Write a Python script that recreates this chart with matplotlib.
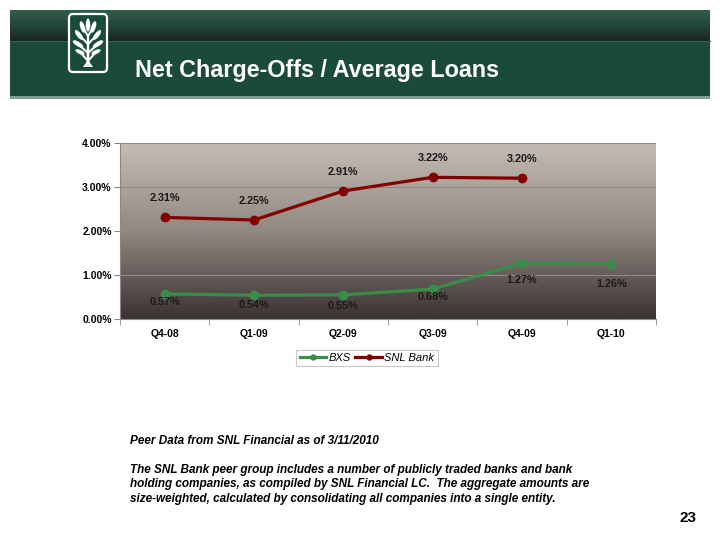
import matplotlib
matplotlib.use("Agg")
import matplotlib.pyplot as plt
import numpy as np
from matplotlib.patches import Rectangle, FancyBboxPatch, Ellipse, Polygon
from matplotlib.colors import LinearSegmentedColormap

plt.rcParams['font.family'] = ['Liberation Sans', 'DejaVu Sans']

categories = ["Q4-08", "Q1-09", "Q2-09", "Q3-09", "Q4-09", "Q1-10"]
bxs = [0.57, 0.54, 0.55, 0.68, 1.27, 1.26]
snl = [2.31, 2.25, 2.91, 3.22, 3.20]
bxs_labels = ["0.57%", "0.54%", "0.55%", "0.68%", "1.27%", "1.26%"]
snl_labels = ["2.31%", "2.25%", "2.91%", "3.22%", "3.20%"]
yticks = [0, 1, 2, 3, 4]
ytick_labels = ["0.00%", "1.00%", "2.00%", "3.00%", "4.00%"]
title = "Net Charge-Offs / Average Loans"
footer1 = "Peer Data from SNL Financial as of 3/11/2010"
footer2 = ("The SNL Bank peer group includes a number of publicly traded banks and bank\n"
           "holding companies, as compiled by SNL Financial LC.  The aggregate amounts are\n"
           "size-weighted, calculated by consolidating all companies into a single entity.")
page = "23"

W, H = 720, 534
fig = plt.figure(figsize=(W/100, H/100), dpi=100)

# background / banner axes in pixel coords
bg = fig.add_axes([0, 0, 1, 1], zorder=0)
bg.set_xlim(0, W)
bg.set_ylim(H, 0)
bg.axis('off')

top_cmap = LinearSegmentedColormap.from_list("top", ["#2f5d4a", "#25463a", "#18261f"])
grad = np.linspace(0, 1, 64).reshape(-1, 1)
bg.imshow(grad, cmap=top_cmap, extent=(10, 710, 41, 10), aspect='auto', zorder=1)
bg.add_patch(Rectangle((10, 41), 700, 56, facecolor="#1a4b3a", edgecolor='none', zorder=1))
bg.add_patch(Rectangle((10, 96), 700, 3, facecolor="#7d9c8c", edgecolor='none', zorder=2))
bg.plot([10, 710], [41, 41], color="#355f4e", lw=0.8, zorder=2)

# logo
bg.add_patch(FancyBboxPatch((69, 14), 38, 58, boxstyle="round,pad=0,rounding_size=4",
                            facecolor="#1a4b3a", edgecolor="white", lw=1.6, zorder=3))
bg.add_patch(Polygon([(86.5, 66), (89.5, 66), (89, 34), (87, 34)], closed=True,
                     facecolor="white", edgecolor="none", zorder=4))
bg.add_patch(Polygon([(83, 67), (93, 67), (89.5, 62), (86.5, 62)], closed=True,
                     facecolor="white", edgecolor="none", zorder=4))
leaves = [(88, 25, 4.5, 13, 0),
          (82.5, 27, 4.5, 12, -18), (93.5, 27, 4.5, 12, 18),
          (79, 35, 4.5, 12, -38), (97, 35, 4.5, 12, 38),
          (78, 44, 4.5, 12, -58), (98, 44, 4.5, 12, 58),
          (80, 52, 4, 10, -65), (96, 52, 4, 10, 65)]
for (cx, cy, w, h, a) in leaves:
    bg.add_patch(Ellipse((cx, cy), w, h, angle=a, facecolor="white", edgecolor="none", zorder=4))
for (cx, cy, w, h, a) in leaves[1:]:
    bg.plot([88, cx], [cy + 9, cy], color="white", lw=1.5, zorder=4)

bg.text(135, 70, title, color="white", fontsize=16.8, fontweight='bold', va='center', ha='left', zorder=5)

# footer text
bg.text(130, 441, footer1, fontsize=8.5, fontweight='bold', style='italic', va='center', ha='left')
bg.text(130, 484.5, footer2, fontsize=8.5, fontweight='bold', style='italic', va='center', ha='left',
        linespacing=1.25)
bg.text(696, 518, page, fontsize=11, fontweight='bold', va='center', ha='right')

# chart axes
ax = fig.add_axes([120/W, 1 - 319/H, 536/W, 176/H], zorder=2)
ax.patch.set_alpha(0)
x = np.arange(len(categories))
n = len(categories)

pcmap = LinearSegmentedColormap.from_list("plot", ["#c3bcb5", "#928882", "#3b3232"])
ax.imshow(np.linspace(1, 0, 128).reshape(-1, 1), cmap=pcmap, origin='lower',
          extent=(-0.5, n - 0.5, 0, 4), aspect='auto', zorder=0)
ax.set_xlim(-0.5, n - 0.5)
ax.set_ylim(0, 4)
for yv in yticks[1:]:
    ax.axhline(yv, color="#8f8a86", lw=0.8, zorder=1)

ln_b, = ax.plot(x, bxs, color="#3a8c4a", lw=2.3, marker='o', markersize=6, zorder=3, label="BXS")
ln_s, = ax.plot(x[:len(snl)], snl, color="#820000", lw=2.3, marker='o', markersize=6, zorder=3, label="SNL Bank")

for xi, v, lab in zip(x, snl, snl_labels):
    ax.annotate(lab, (xi, v), xytext=(0, 14), textcoords='offset points', ha='center', va='center',
                fontsize=7.8, fontweight='bold', color="#1a1a1a", zorder=4)
bxs_off = [-6, -7, -8, -6, -12, -15]
for xi, v, lab, off in zip(x, bxs, bxs_labels, bxs_off):
    ax.annotate(lab, (xi, v), xytext=(0, off), textcoords='offset points', ha='center', va='center',
                fontsize=7.8, fontweight='bold', color="#1a1a1a", zorder=4)

ax.set_yticks(yticks)
ax.set_yticklabels(ytick_labels, fontsize=7.5, fontweight='bold')
ax.set_xticks(x)
ax.set_xticklabels(categories, fontsize=7.5, fontweight='bold')
ax.set_xticks(np.arange(-0.5, n, 1), minor=True)
ax.tick_params(axis='x', which='major', length=0, pad=7)
ax.tick_params(axis='x', which='minor', length=4, color="#888888", direction='out')
ax.tick_params(axis='y', length=4, color="#888888", direction='out', pad=2)
for s in ['top', 'right']:
    ax.spines[s].set_visible(False)
ax.spines['left'].set_color("#888888")
ax.spines['bottom'].set_color("#888888")

leg = fig.legend(handles=[ln_b, ln_s], loc='center', bbox_to_anchor=(367/W, 1 - 358/H), ncol=2,
                 prop={'size': 8, 'style': 'italic'}, frameon=True, fancybox=False,
                 handlelength=2.4, markerscale=0.6, columnspacing=0.4, handletextpad=0.2,
                 borderpad=0.3, borderaxespad=0, edgecolor="#bbbbbb")
leg.get_frame().set_linewidth(0.8)

fig.savefig("out.png", dpi=100)
